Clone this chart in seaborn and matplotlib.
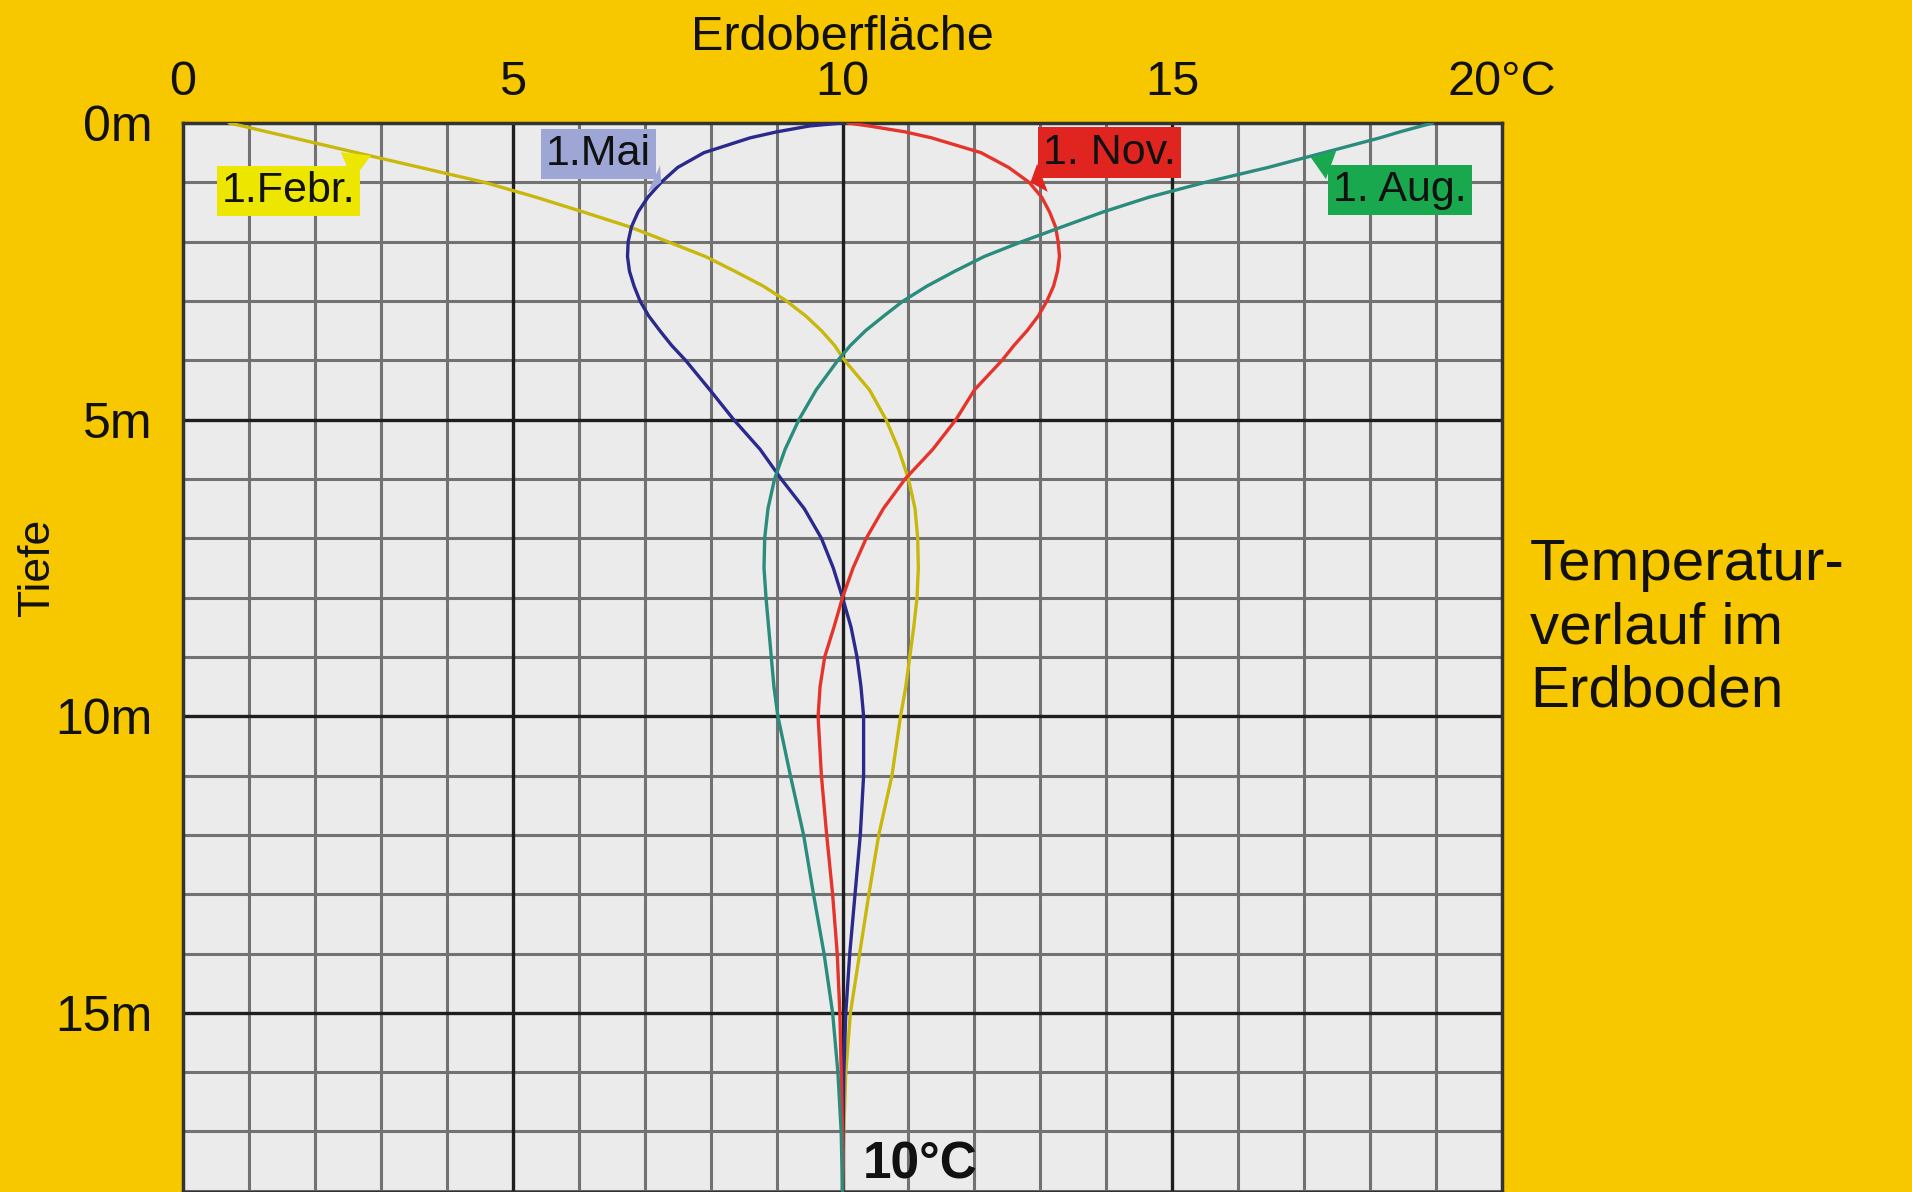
import numpy as np
import pandas as pd
import matplotlib
matplotlib.use("Agg")
import matplotlib.pyplot as plt
import seaborn as sns

# depth below surface in m
depth = [0, 0.05, 0.15, 0.25, 0.5, 0.75, 1, 1.25, 1.5, 1.75, 2, 2.25, 2.5, 2.75, 3, 3.25, 3.5, 3.75, 4,
         4.5, 5, 5.5, 6, 6.5, 7, 7.5, 8, 8.5, 9, 9.5, 10, 11, 12, 13, 14, 15, 16, 17, 18]

# temperature in degC
temp_feb = [0.7, 0.9, 1.28, 1.67, 2.63, 3.6, 4.57, 5.35, 6.07, 6.77, 7.35, 7.92, 8.37, 8.8, 9.15, 9.44, 9.68, 9.88, 10.03,
            10.41, 10.66, 10.85, 11.0, 11.1, 11.14, 11.15, 11.13, 11.08, 11.02, 10.96, 10.88, 10.75, 10.55, 10.4, 10.26, 10.12, 10.05, 10.02, 10.0]
temp_mai = [10.0, 9.5, 9.0, 8.6, 7.9, 7.5, 7.25, 7.05, 6.9, 6.8, 6.75, 6.74, 6.77, 6.84, 6.93, 7.06, 7.23, 7.41, 7.62,
            7.99, 8.35, 8.75, 9.07, 9.42, 9.68, 9.86, 10.0, 10.13, 10.22, 10.28, 10.32, 10.32, 10.27, 10.19, 10.11, 10.05, 10.02, 10.01, 10.0]
temp_nov = [10.08, 10.4, 10.95, 11.35, 12.1, 12.52, 12.83, 13.02, 13.14, 13.23, 13.27, 13.29, 13.26, 13.2, 13.1, 12.97, 12.8, 12.6, 12.42,
            12.0, 11.72, 11.37, 10.95, 10.62, 10.36, 10.16, 10.0, 9.87, 9.73, 9.66, 9.63, 9.68, 9.76, 9.85, 9.92, 9.96, 9.98, 10.0, 10.0]
temp_aug = [18.95, 18.78, 18.45, 18.15, 17.3, 16.45, 15.5, 14.65, 13.95, 13.33, 12.72, 12.15, 11.7, 11.28, 10.92, 10.63, 10.35, 10.12, 9.93,
            9.6, 9.34, 9.13, 8.97, 8.87, 8.82, 8.81, 8.84, 8.88, 8.92, 8.96, 9.02, 9.21, 9.41, 9.56, 9.72, 9.85, 9.93, 9.98, 10.0]

series_names = ["1.Febr.", "1.Mai", "1. Nov.", "1. Aug."]
line_colors = ["#c9b80c", "#2b2a8c", "#e5342c", "#2a8c7c"]
box_colors = ["#ece600", "#9ea6d6", "#e02420", "#1aa84e"]

x_ticks = [0, 5, 10, 15, 20]
x_ticklabels = ["0", "5", "10", "15", "20°C"]
y_ticks = [0, 5, 10, 15]
y_ticklabels = ["0m", "5m", "10m", "15m"]

df = pd.concat([
    pd.DataFrame({"depth": depth, "temp": t, "date": n})
    for t, n in zip([temp_feb, temp_mai, temp_nov, temp_aug], series_names)
])

sns.set_style("white")
plt.rcParams["font.family"] = ["Liberation Sans", "DejaVu Sans"]
plt.rcParams["text.color"] = "#111111"
plt.rcParams["axes.labelcolor"] = "#111111"
plt.rcParams["xtick.color"] = "#111111"
plt.rcParams["ytick.color"] = "#111111"

bg = "#f7c700"
fig = plt.figure(figsize=(19.12, 11.92), dpi=100, facecolor=bg)
ax = fig.add_axes([183 / 1912, 0, 1319 / 1912, 1069 / 1192])
ax.set_facecolor("#ebebeb")

# grid: 1 degree / 1 m minor, 5 major
for v in range(0, 21):
    if v % 5 == 0:
        continue
    ax.axvline(v, color="#727272", lw=2.2, zorder=1)
for v in range(0, 19):
    if v % 5 == 0:
        continue
    ax.axhline(v, color="#727272", lw=2.2, zorder=1)
for v in [5, 10, 15]:
    ax.axvline(v, color="#1e1e1e", lw=2.4, zorder=1.5)
    ax.axhline(v, color="#1e1e1e", lw=2.4, zorder=1.5)

for name, col in zip(series_names, line_colors):
    sub = df[df["date"] == name]
    sns.lineplot(x=sub["temp"], y=sub["depth"], sort=False, estimator=None,
                 color=col, lw=2.4, ax=ax, zorder=3)

ax.set_xlim(0, 20)
ax.set_ylim(18.02, 0)
ax.xaxis.tick_top()
ax.xaxis.set_label_position("top")
ax.set_xticks(x_ticks)
ax.set_xticklabels(x_ticklabels)
ax.set_yticks(y_ticks)
ax.set_yticklabels(y_ticklabels)
ax.tick_params(axis="x", length=0, pad=13, labelsize=35)
ax.tick_params(axis="y", length=0, pad=22, labelsize=36)
ax.set_xlabel("Erdoberfläche", fontsize=35, labelpad=7)
ax.set_ylabel("")
for s in ax.spines.values():
    s.set_color("#333333")
    s.set_linewidth(2.5)

# label boxes with pointer
label_pos = [(1.6, 1.15), (6.3, 0.52), (14.05, 0.5), (18.45, 1.13)]
label_tip = [(2.85, 0.55), (7.25, 1.0), (12.85, 1.0), (17.1, 0.58)]
for name, bc, pos, tip in zip(series_names, box_colors, label_pos, label_tip):
    ax.annotate(name, xy=tip, xytext=pos, ha="center", va="center", fontsize=31,
                zorder=5,
                bbox=dict(boxstyle="square,pad=0.12", fc=bc, ec="none"),
                arrowprops=dict(arrowstyle="wedge,tail_width=0.7,shrink_factor=0.5",
                                fc=bc, ec="none", shrinkA=0, shrinkB=0))

ax.text(10.3, 17.57, "10°C", fontsize=37, fontweight="bold", ha="left", va="center",
        zorder=5)

fig.text(37 / 1912, 1 - 567 / 1192, "Tiefe", rotation=90, fontsize=32,
         ha="center", va="center")
fig.text(1530 / 1912, 1 - 628 / 1192, "Temperatur-\nverlauf im\nErdboden", fontsize=42,
         ha="left", va="center", linespacing=1.22)

fig.savefig("out.png", dpi=100, facecolor=bg)
